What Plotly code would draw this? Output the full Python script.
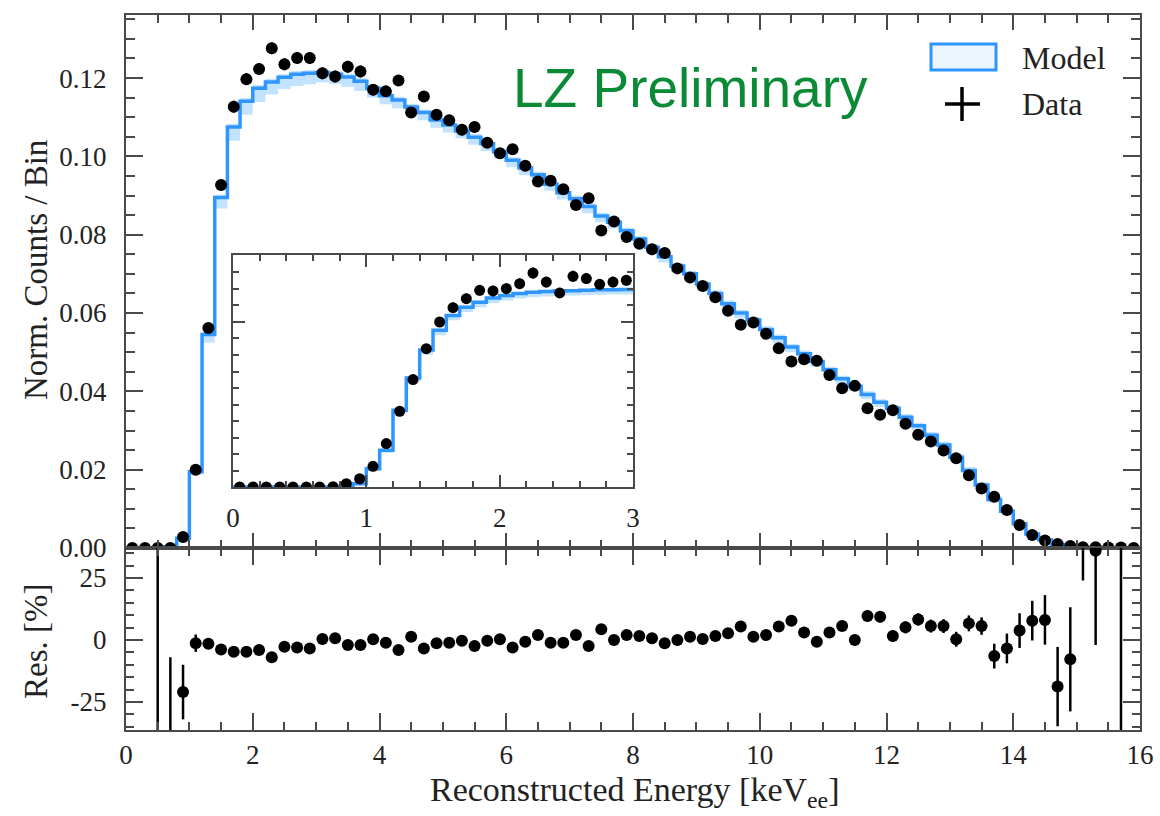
import plotly.graph_objects as go

# ---------------- data ----------------
bin_centers = [0.1, 0.3, 0.5, 0.7, 0.9, 1.1, 1.3, 1.5, 1.7, 1.9,
               2.1, 2.3, 2.5, 2.7, 2.9, 3.1, 3.3, 3.5, 3.7, 3.9,
               4.1, 4.3, 4.5, 4.7, 4.9, 5.1, 5.3, 5.5, 5.7, 5.9,
               6.1, 6.3, 6.5, 6.7, 6.9, 7.1, 7.3, 7.5, 7.7, 7.9,
               8.1, 8.3, 8.5, 8.7, 8.9, 9.1, 9.3, 9.5, 9.7, 9.9,
               10.1, 10.3, 10.5, 10.7, 10.9, 11.1, 11.3, 11.5, 11.7, 11.9,
               12.1, 12.3, 12.5, 12.7, 12.9, 13.1, 13.3, 13.5, 13.7, 13.9,
               14.1, 14.3, 14.5, 14.7, 14.9, 15.1, 15.3, 15.5, 15.7, 15.9]

data_vals = [0.0000, 0.0000, 0.0000, 0.0000, 0.0028, 0.0200, 0.0562, 0.0927, 0.1127, 0.1197,
             0.1223, 0.1276, 0.1235, 0.1251, 0.1251, 0.1212, 0.1204, 0.1229, 0.1217, 0.1170,
             0.1166, 0.1194, 0.1112, 0.1153, 0.1106, 0.1092, 0.1068, 0.1075, 0.1035, 0.1008,
             0.1018, 0.0976, 0.0936, 0.0938, 0.0916, 0.0876, 0.0893, 0.0811, 0.0834, 0.0794,
             0.0777, 0.0763, 0.0753, 0.0714, 0.0691, 0.0669, 0.0640, 0.0606, 0.0570, 0.0576,
             0.0547, 0.0510, 0.0476, 0.0482, 0.0478, 0.0442, 0.0408, 0.0414, 0.0357, 0.0340,
             0.0352, 0.0317, 0.0289, 0.0272, 0.0249, 0.0229, 0.0186, 0.0152, 0.0131, 0.0097,
             0.0059, 0.0033, 0.0019, 0.0010, 0.0005, 0.0002, 0.0002, 0.0001, 0.0001, 0.0000]

data_err = [0.0001, 0.0001, 0.0001, 0.0001, 0.0004, 0.0008, 0.0012, 0.0014, 0.0015, 0.0015,
            0.0015, 0.0015, 0.0015, 0.0015, 0.0015, 0.0015, 0.0015, 0.0015, 0.0015, 0.0014,
            0.0014, 0.0014, 0.0014, 0.0014, 0.0014, 0.0014, 0.0014, 0.0013, 0.0013, 0.0013,
            0.0013, 0.0013, 0.0013, 0.0013, 0.0013, 0.0012, 0.0012, 0.0012, 0.0012, 0.0012,
            0.0012, 0.0012, 0.0012, 0.0011, 0.0011, 0.0011, 0.0011, 0.0011, 0.0010, 0.0010,
            0.0010, 0.0010, 0.0010, 0.0010, 0.0010, 0.0009, 0.0009, 0.0009, 0.0009, 0.0009,
            0.0009, 0.0008, 0.0008, 0.0008, 0.0008, 0.0008, 0.0007, 0.0007, 0.0007, 0.0006,
            0.0005, 0.0004, 0.0003, 0.0003, 0.0002, 0.0002, 0.0002, 0.0001, 0.0001, 0.0001]

model_vals = [0.0000, 0.0000, 0.0000, 0.0003, 0.0025, 0.0195, 0.0545, 0.0895, 0.1075, 0.1141,
              0.1174, 0.1190, 0.1202, 0.1210, 0.1212, 0.1214, 0.1210, 0.1203, 0.1192, 0.1174,
              0.1155, 0.1144, 0.1126, 0.1112, 0.1093, 0.1080, 0.1065, 0.1049, 0.1032, 0.1012,
              0.0990, 0.0970, 0.0953, 0.0929, 0.0907, 0.0892, 0.0872, 0.0848, 0.0832, 0.0810,
              0.0789, 0.0768, 0.0744, 0.0720, 0.0700, 0.0674, 0.0650, 0.0624, 0.0600, 0.0582,
              0.0558, 0.0537, 0.0513, 0.0496, 0.0476, 0.0455, 0.0432, 0.0413, 0.0392, 0.0372,
              0.0357, 0.0334, 0.0312, 0.0288, 0.0263, 0.0232, 0.0198, 0.0161, 0.0124, 0.0094,
              0.0062, 0.0036, 0.0021, 0.0009, 0.0005, 0.0002, 0.0001, 0.0000, 0.0000, 0.0000]

band_lo = [0.0000, 0.0000, 0.0000, 0.0001, 0.0004, 0.0008, 0.0020, 0.0028, 0.0035, 0.0035,
           0.0035, 0.0032, 0.0030, 0.0030, 0.0028, 0.0025, 0.0025, 0.0025, 0.0025, 0.0024,
           0.0022, 0.0021, 0.0020, 0.0020, 0.0020, 0.0019, 0.0019, 0.0019, 0.0018, 0.0018,
           0.0018, 0.0018, 0.0018, 0.0017, 0.0017, 0.0017, 0.0017, 0.0016, 0.0016, 0.0016,
           0.0016, 0.0016, 0.0015, 0.0015, 0.0015, 0.0015, 0.0015, 0.0014, 0.0014, 0.0014,
           0.0014, 0.0014, 0.0013, 0.0013, 0.0013, 0.0013, 0.0013, 0.0012, 0.0012, 0.0012,
           0.0012, 0.0012, 0.0011, 0.0011, 0.0011, 0.0010, 0.0010, 0.0009, 0.0008, 0.0007,
           0.0006, 0.0004, 0.0003, 0.0002, 0.0001, 0.0000, 0.0000, 0.0000, 0.0000, 0.0000]

band_hi = [0.0000, 0.0000, 0.0000, 0.0001, 0.0003, 0.0005, 0.0006, 0.0007, 0.0008, 0.0008,
           0.0008, 0.0008, 0.0008, 0.0008, 0.0008, 0.0008, 0.0008, 0.0008, 0.0008, 0.0008,
           0.0008, 0.0008, 0.0008, 0.0008, 0.0008, 0.0008, 0.0008, 0.0008, 0.0008, 0.0008,
           0.0008, 0.0008, 0.0008, 0.0008, 0.0008, 0.0008, 0.0008, 0.0008, 0.0008, 0.0008,
           0.0008, 0.0008, 0.0008, 0.0008, 0.0008, 0.0008, 0.0008, 0.0008, 0.0008, 0.0008,
           0.0008, 0.0008, 0.0008, 0.0008, 0.0008, 0.0008, 0.0008, 0.0008, 0.0008, 0.0008,
           0.0008, 0.0008, 0.0008, 0.0008, 0.0008, 0.0008, 0.0008, 0.0007, 0.0007, 0.0006,
           0.0005, 0.0004, 0.0003, 0.0002, 0.0001, 0.0000, 0.0000, 0.0000, 0.0000, 0.0000]

res_vals = [None, None, -80, -60, -21, -1.3, -1.5, -3.8, -4.7, -4.7,
            -4.0, -7.0, -2.7, -3.0, -3.4, 0.4, 0.7, -2.0, -2.0, 0.3,
            -1.1, -4.0, 1.3, -3.4, -1.3, -1.1, -0.3, -2.4, -0.3, 0.3,
            -3.0, -0.7, 2.0, -1.1, -1.1, 2.0, -2.4, 4.3, 0.0, 2.0,
            1.6, 0.7, -1.3, 0.0, 1.3, 0.4, 1.6, 2.7, 5.4, 1.3,
            2.0, 5.4, 7.8, 3.0, -0.7, 3.0, 5.6, 0.0, 9.7, 9.4,
            1.6, 5.1, 8.3, 5.6, 5.6, 0.3, 6.7, 5.6, -6.5, -3.4,
            3.8, 7.8, 8.1, -18.8, -7.8, 60, 36, None, 80, None]

res_err = [0, 0, 200, 53, 11, 3.5, 2.0, 1.5, 1.4, 1.4,
           1.4, 1.4, 1.4, 1.4, 1.4, 1.4, 1.4, 1.4, 1.4, 1.4,
           1.4, 1.4, 1.4, 1.4, 1.4, 1.4, 1.4, 1.4, 1.4, 1.4,
           1.5, 1.5, 1.5, 1.5, 1.5, 1.5, 1.5, 1.5, 1.5, 1.5,
           1.6, 1.6, 1.6, 1.6, 1.6, 1.6, 1.7, 1.7, 1.7, 1.7,
           1.8, 1.8, 1.8, 1.9, 1.9, 2.0, 2.0, 2.1, 2.2, 2.3,
           2.3, 2.4, 2.5, 2.6, 2.8, 3.0, 3.2, 3.5, 5.0, 6.0,
           7.0, 8.0, 10.0, 16.0, 21.0, 36.0, 38.0, 0, 200, 0]

# inset (finer binning, 0 - 3)
inset_centers = [0.05, 0.15, 0.25, 0.35, 0.45, 0.55, 0.65, 0.75, 0.85, 0.95,
                 1.05, 1.15, 1.25, 1.35, 1.45, 1.55, 1.65, 1.75, 1.85, 1.95,
                 2.05, 2.15, 2.25, 2.35, 2.45, 2.55, 2.65, 2.75, 2.85, 2.95]
inset_data = [0.0000, 0.0000, 0.0000, 0.0000, 0.0000, 0.0000, 0.0000, 0.0002, 0.0020, 0.0050,
              0.0125, 0.0263, 0.0459, 0.0651, 0.0838, 0.1000, 0.1087, 0.1141, 0.1192, 0.1188,
              0.1202, 0.1232, 0.1297, 0.1242, 0.1176, 0.1277, 0.1263, 0.1228, 0.1242, 0.1253]
inset_err = [0.0002, 0.0002, 0.0002, 0.0002, 0.0002, 0.0002, 0.0002, 0.0003, 0.0006, 0.0009,
             0.0013, 0.0018, 0.0022, 0.0025, 0.0028, 0.0030, 0.0031, 0.0032, 0.0032, 0.0032,
             0.0032, 0.0032, 0.0033, 0.0032, 0.0031, 0.0033, 0.0033, 0.0032, 0.0032, 0.0032]
inset_model = [0.0000, 0.0000, 0.0000, 0.0000, 0.0000, 0.0000, 0.0000, 0.0000, 0.0005, 0.0020,
               0.0110, 0.0222, 0.0465, 0.0660, 0.0830, 0.0950, 0.1040, 0.1090, 0.1120, 0.1145,
               0.1160, 0.1172, 0.1180, 0.1185, 0.1188, 0.1190, 0.1193, 0.1195, 0.1196, 0.1197]
inset_band = [0.0000, 0.0000, 0.0000, 0.0000, 0.0000, 0.0000, 0.0000, 0.0000, 0.0003, 0.0006,
              0.0010, 0.0015, 0.0020, 0.0025, 0.0028, 0.0030, 0.0030, 0.0030, 0.0030, 0.0030,
              0.0030, 0.0030, 0.0030, 0.0030, 0.0030, 0.0030, 0.0030, 0.0030, 0.0030, 0.0030]

main_yticks = [0.00, 0.02, 0.04, 0.06, 0.08, 0.10, 0.12]
res_yticks = [-25, 0, 25]
res_yticktext = ["-25", "0", "25"]
x_ticks = [0, 2, 4, 6, 8, 10, 12, 14, 16]
inset_xticks = [0, 1, 2, 3]

# ---------------- styling ----------------
W, H = 1160, 816
SERIF = "Liberation Serif, Times New Roman, serif"
SANS = "Liberation Sans, Arial, sans-serif"
BLUE = "#2f96ff"
BAND = "rgba(120,190,255,0.45)"
AX = "#4a4a4a"
TXT = "#222222"


def fx(px):
    return px / W


def fy(py):
    return 1 - py / H


def step_xy(centers, vals, half):
    xs = [c - half for c in centers] + [centers[-1] + half]
    ys = list(vals) + [vals[-1]]
    return xs, ys


fig = go.Figure()

# ---- main panel ----
ex, lo_y = step_xy(bin_centers, [m - b for m, b in zip(model_vals, band_lo)], 0.1)
_, hi_y = step_xy(bin_centers, [m + b for m, b in zip(model_vals, band_hi)], 0.1)
_, mod_y = step_xy(bin_centers, model_vals, 0.1)
fig.add_trace(go.Scatter(x=ex, y=lo_y, mode="lines", line=dict(width=0, shape="hv"),
                         hoverinfo="skip", showlegend=False, xaxis="x", yaxis="y"))
fig.add_trace(go.Scatter(x=ex, y=hi_y, mode="lines", line=dict(width=0, shape="hv"),
                         fill="tonexty", fillcolor=BAND, hoverinfo="skip",
                         showlegend=False, xaxis="x", yaxis="y"))
fig.add_trace(go.Scatter(x=ex, y=mod_y, mode="lines", line=dict(color=BLUE, width=3.5, shape="hv"),
                         name="Model", showlegend=False, xaxis="x", yaxis="y"))
fig.add_trace(go.Scatter(x=bin_centers, y=data_vals, mode="markers",
                         marker=dict(color="black", size=12),
                         error_y=dict(type="data", array=data_err, color="black", thickness=2.5, width=0),
                         name="Data", showlegend=False, xaxis="x", yaxis="y"))

# ---- residual panel ----
fig.add_trace(go.Scatter(x=bin_centers, y=res_vals, mode="markers",
                         marker=dict(color="black", size=12),
                         error_y=dict(type="data", array=res_err, color="black", thickness=2.5, width=0),
                         showlegend=False, xaxis="x2", yaxis="y2"))

# ---- inset ----
ix, ilo = step_xy(inset_centers, [m - b for m, b in zip(inset_model, inset_band)], 0.05)
_, ihi = step_xy(inset_centers, [m + b * 0.3 for m, b in zip(inset_model, inset_band)], 0.05)
_, imod = step_xy(inset_centers, inset_model, 0.05)
fig.add_trace(go.Scatter(x=ix, y=ilo, mode="lines", line=dict(width=0, shape="hv"),
                         hoverinfo="skip", showlegend=False, xaxis="x3", yaxis="y3"))
fig.add_trace(go.Scatter(x=ix, y=ihi, mode="lines", line=dict(width=0, shape="hv"),
                         fill="tonexty", fillcolor=BAND, hoverinfo="skip",
                         showlegend=False, xaxis="x3", yaxis="y3"))
fig.add_trace(go.Scatter(x=ix, y=imod, mode="lines", line=dict(color=BLUE, width=3.5, shape="hv"),
                         showlegend=False, xaxis="x3", yaxis="y3"))
fig.add_trace(go.Scatter(x=inset_centers, y=inset_data, mode="markers",
                         marker=dict(color="black", size=11),
                         error_y=dict(type="data", array=inset_err, color="black", thickness=2, width=0),
                         showlegend=False, xaxis="x3", yaxis="y3"))

common = dict(showline=True, linecolor=AX, linewidth=2, mirror="allticks", automargin=False,
              ticks="inside", tickcolor=AX, tickwidth=2, showgrid=False, zeroline=False,
              tickfont=dict(family=SERIF, size=27, color=TXT))

xd = [fx(126), fx(1140)]
fig.update_layout(
    template="none",
    width=W, height=H, autosize=False,
    margin=dict(l=0, r=0, t=0, b=0, pad=0, autoexpand=False),
    paper_bgcolor="white", plot_bgcolor="white",
    showlegend=False,
    xaxis=dict(domain=xd, anchor="y", range=[0, 16], tickvals=x_ticks, showticklabels=False,
               ticklen=15, minor=dict(dtick=0.5, ticklen=8, ticks="inside", tickcolor=AX, tickwidth=2),
               **common),
    yaxis=dict(domain=[fy(548), fy(15)], anchor="x", range=[0, 0.1361], tickvals=main_yticks,
               tickformat=".2f", ticklen=17, ticklabelstandoff=12,
               minor=dict(dtick=0.005, ticklen=9, ticks="inside", tickcolor=AX, tickwidth=2),
               **common),
    xaxis2=dict(domain=xd, anchor="y2", range=[0, 16], tickvals=x_ticks, ticklen=17,
                ticklabelstandoff=0,
                minor=dict(dtick=0.5, ticklen=8, ticks="inside", tickcolor=AX, tickwidth=2),
                **common),
    yaxis2=dict(domain=[fy(730), fy(548)], anchor="x2", range=[-36.3, 37.1], tickvals=res_yticks,
                ticktext=res_yticktext, ticklen=17, ticklabelstandoff=12,
                minor=dict(dtick=5, ticklen=8, ticks="inside", tickcolor=AX, tickwidth=2),
                **common),
    xaxis3=dict(domain=[fx(233), fx(633)], anchor="y3", range=[0, 3], tickvals=inset_xticks,
                ticklen=12, ticklabelstandoff=6,
                minor=dict(dtick=0.2, ticklen=6, ticks="inside", tickcolor=AX, tickwidth=2),
                **common),
    yaxis3=dict(domain=[fy(487), fy(255)], anchor="x3", range=[0, 0.1406], dtick=0.1,
                showticklabels=False, ticklen=12,
                minor=dict(dtick=0.01, ticklen=6, ticks="inside", tickcolor=AX, tickwidth=2),
                **common),
)

annotations = [
    dict(text="Norm. Counts / Bin", x=fx(36), y=fy(270), textangle=-90, yanchor="middle",
         font=dict(family=SERIF, size=33, color=TXT)),
    dict(text="Res. [%]", x=fx(36), y=fy(642), textangle=-90, yanchor="middle",
         font=dict(family=SERIF, size=33, color=TXT)),
    dict(text="Reconstructed Energy [keV<sub>ee</sub>]", x=fx(634), y=fy(815), yanchor="bottom",
         font=dict(family=SERIF, size=34, color=TXT)),
    dict(text="LZ Preliminary", x=fx(690), y=fy(88), yanchor="middle",
         font=dict(family=SANS, size=55, color="#0b8a35")),
    dict(text="Model", x=fx(1020), y=fy(58), xanchor="left", yanchor="middle",
         font=dict(family=SERIF, size=32, color=TXT)),
    dict(text="Data", x=fx(1020), y=fy(104), xanchor="left", yanchor="middle",
         font=dict(family=SERIF, size=32, color=TXT)),
]
for a in annotations:
    a.setdefault("xanchor", "center")
    a.update(xref="paper", yref="paper", showarrow=False)
fig.update_layout(annotations=annotations)

shapes = [
    dict(type="rect", x0=fx(931), x1=fx(996), y0=fy(70), y1=fy(44),
         line=dict(color=BLUE, width=3), fillcolor="rgba(200,230,255,0.35)"),
    dict(type="line", x0=fx(945), x1=fx(980), y0=fy(104), y1=fy(104),
         line=dict(color="black", width=3.5)),
    dict(type="line", x0=fx(962), x1=fx(962), y0=fy(87), y1=fy(121),
         line=dict(color="black", width=3.5)),
]
for s in shapes:
    s.update(xref="paper", yref="paper")
fig.update_layout(shapes=shapes)

fig.write_html("out.html")
